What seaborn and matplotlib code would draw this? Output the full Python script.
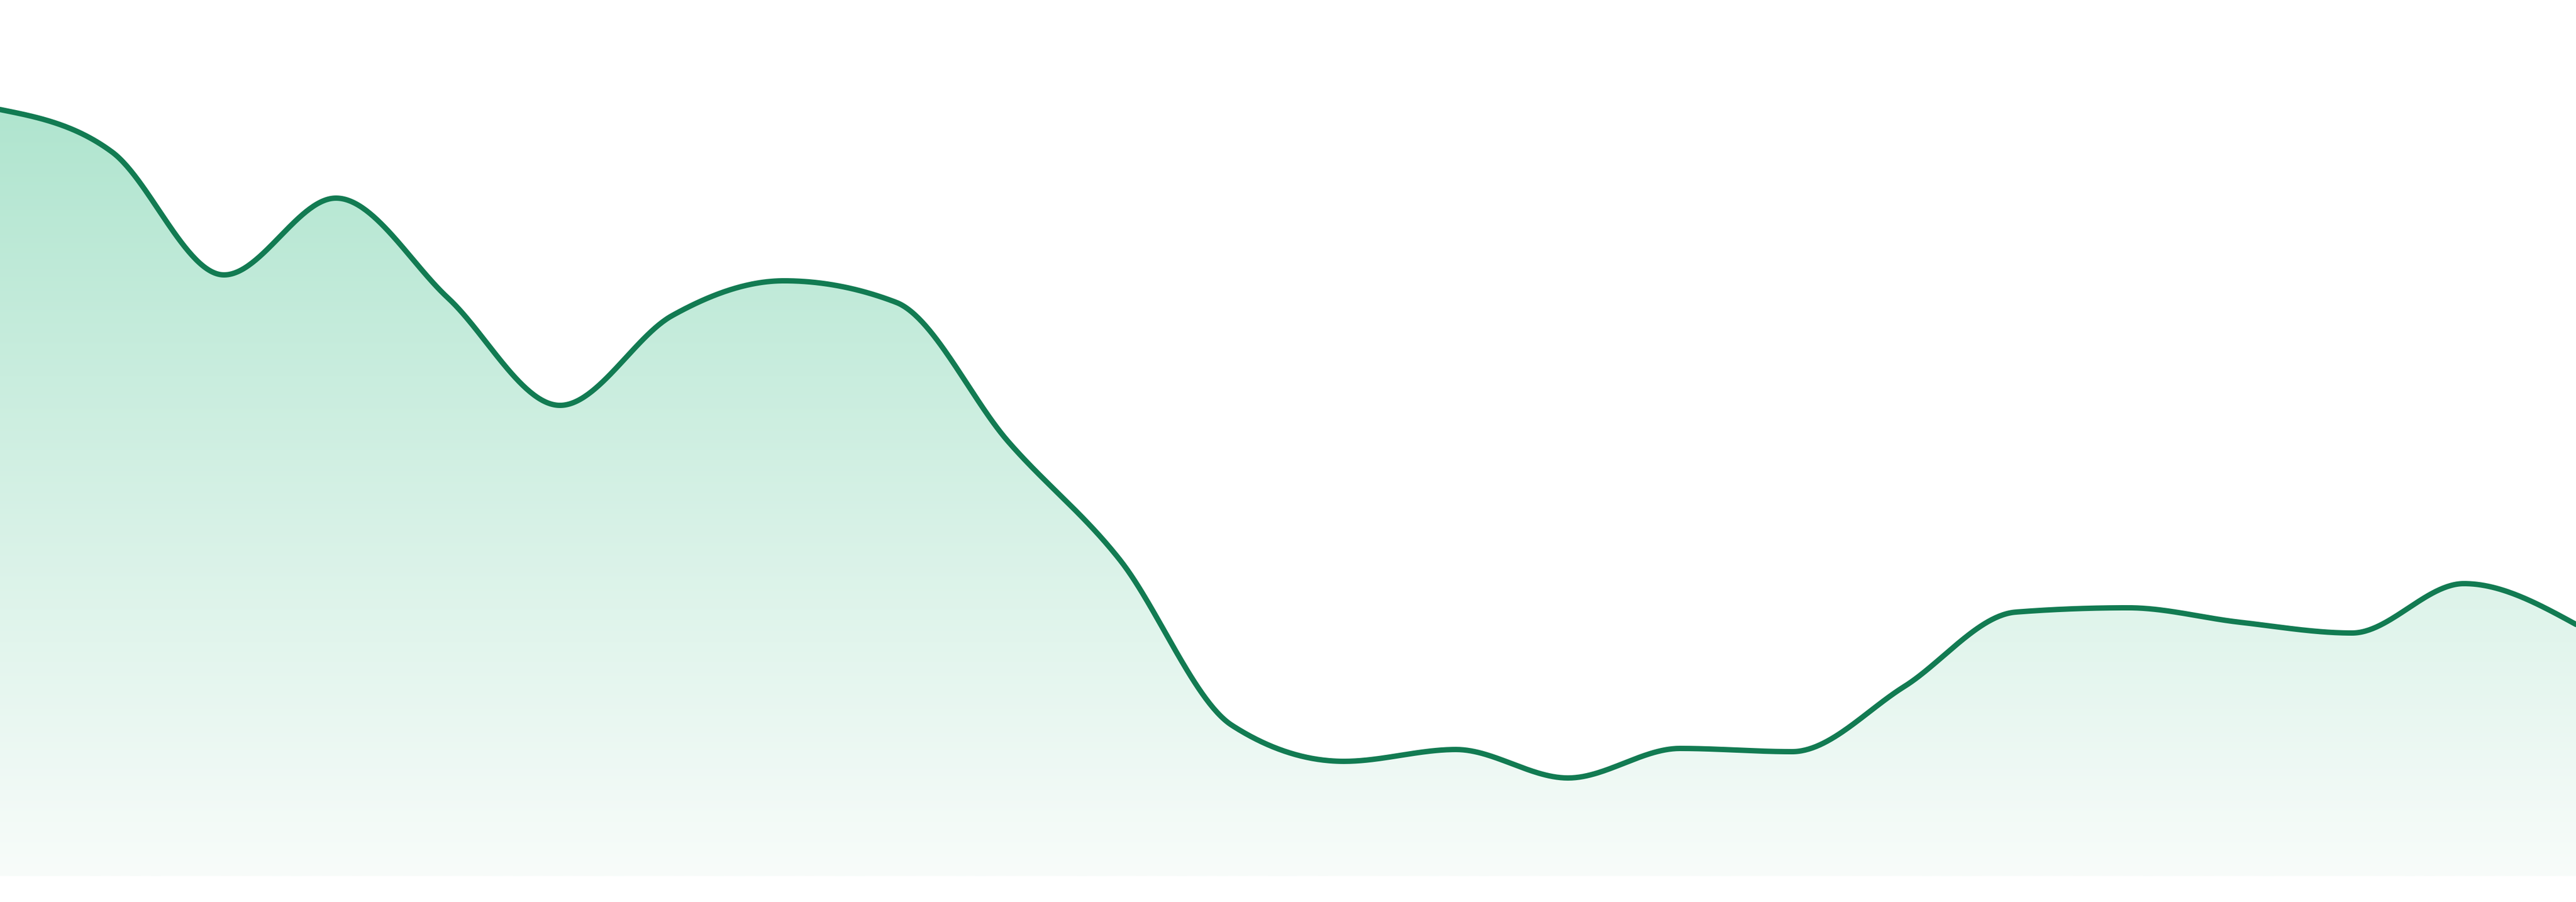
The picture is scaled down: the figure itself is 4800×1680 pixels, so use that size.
import numpy as np
import pandas as pd
import matplotlib
matplotlib.use("Agg")
import matplotlib.pyplot as plt
import seaborn as sns

# ---- data ----
periods = list(range(24))
values = [142.8, 134.9, 112.0, 126.3, 107.7, 87.7, 104.4, 110.9, 106.9, 81.0,
          58.9, 28.1, 21.4, 23.6, 18.3, 23.8, 23.2, 35.3, 49.2, 50.0,
          47.3, 45.3, 54.5, 46.9]

LINE_COLOR = "#127b52"
TOP_RGB = np.array([176, 229, 207]) / 255.0
BOTTOM_RGB = np.array([248, 252, 250]) / 255.0
Y_MAX = 163.2


def monotone_x(x, y, n=60):
    """d3.curveMonotoneX style smoothing of the data for drawing."""
    x = np.asarray(x, float)
    y = np.asarray(y, float)
    m = len(x)
    h = np.diff(x)
    s = np.diff(y) / h
    t = np.zeros(m)
    for i in range(1, m - 1):
        h0, h1 = h[i - 1], h[i]
        s0, s1 = s[i - 1], s[i]
        p = (s0 * h1 + s1 * h0) / (h0 + h1)
        t[i] = (np.sign(s0) + np.sign(s1)) * min(abs(s0), abs(s1), 0.5 * abs(p))
    t[0] = (3 * s[0] - t[1]) / 2
    t[-1] = (3 * s[-1] - t[-2]) / 2
    xs, ys = [], []
    for i in range(m - 1):
        dx = h[i]
        x0, x1 = x[i], x[i + 1]
        p0 = (x0, y[i])
        p1 = (x0 + dx / 3, y[i] + dx / 3 * t[i])
        p2 = (x1 - dx / 3, y[i + 1] - dx / 3 * t[i + 1])
        p3 = (x1, y[i + 1])
        u = np.linspace(0, 1, n, endpoint=(i == m - 2))
        a = (1 - u) ** 3
        b = 3 * (1 - u) ** 2 * u
        c = 3 * (1 - u) * u ** 2
        d = u ** 3
        xs.append(a * p0[0] + b * p1[0] + c * p2[0] + d * p3[0])
        ys.append(a * p0[1] + b * p1[1] + c * p2[1] + d * p3[1])
    return np.concatenate(xs), np.concatenate(ys)


sns.set_theme(style="white")
fig = plt.figure(figsize=(16, 5.6), dpi=300)
fig.patch.set_facecolor("white")
ax = fig.add_axes([0, 48 / 1680, 1, 1632 / 1680])
ax.set_facecolor("white")

xs, ys = monotone_x(periods, values)
df = pd.DataFrame({"period": xs, "value": ys})

# gradient fill under the curve
poly = ax.fill_between(df["period"], df["value"], 0, facecolor="none", edgecolor="none")
rows = 400
vals = np.linspace(Y_MAX, 0, rows)
top_v = max(values)
frac = np.clip((top_v - vals) / top_v, 0, 1)[:, None]
grad = (TOP_RGB[None, :] * (1 - frac) + BOTTOM_RGB[None, :] * frac)[:, None, :]
im = ax.imshow(grad, extent=[periods[0], periods[-1], 0, Y_MAX], aspect="auto",
               origin="upper", interpolation="bilinear", zorder=1)
im.set_clip_path(poly.get_paths()[0], transform=ax.transData)

sns.lineplot(data=df, x="period", y="value", color=LINE_COLOR, linewidth=2.4,
             ax=ax, zorder=3, sort=False)

ax.set_xlim(periods[0], periods[-1])
ax.set_ylim(0, Y_MAX)
ax.axis("off")

fig.savefig("out.png", dpi=300, facecolor="white")
